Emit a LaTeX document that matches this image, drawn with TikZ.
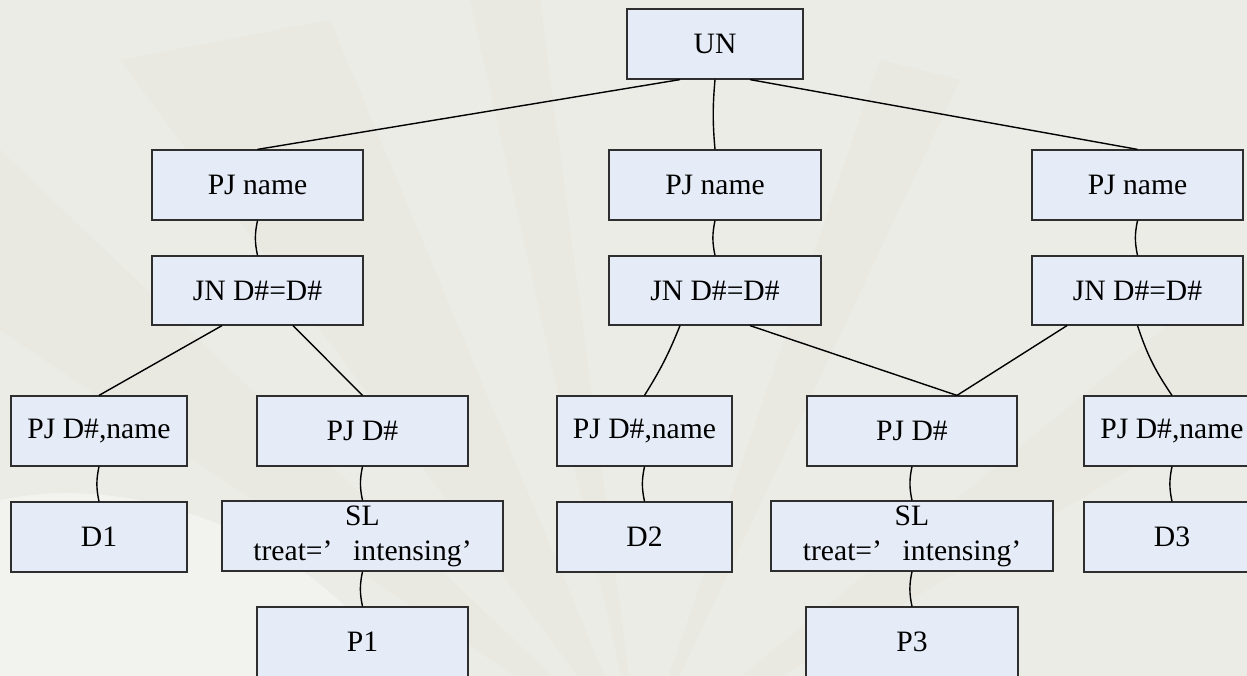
\documentclass[tikz,border=0pt]{standalone}
\usepackage{fontspec}
\setmainfont{Liberation Serif}
\definecolor{paper}{HTML}{ECECE6}
\definecolor{paperlight}{HTML}{F2F2EE}
\definecolor{paperdark}{HTML}{DEDED6}
\definecolor{boxfill}{HTML}{E6ECF7}
\definecolor{boxline}{HTML}{2E2E2E}
\tikzset{
  opbox/.style={draw=boxline, line width=1.2pt, fill=boxfill, inner sep=0pt,
    minimum height=70pt, align=center,
    font=\fontsize{29.6}{35}\selectfont},
  link/.style={draw=black, line width=1.4pt},
  drop/.style={link, bend right=12},
  ray/.style={fill=paperdark, opacity=0.2},
}
\begin{document}
\begin{tikzpicture}[x=1pt, y=-1pt]
  % page area
  \clip (0,0) rectangle (1247,676);
  \fill[paper] (0,0) rectangle (1247,676);
  % faint fan-shaped paper texture
  \coordinate (hub) at (640,760);
  \fill[ray] (hub) -- (0,150) -- (0,330) -- cycle;
  \fill[ray] (hub) -- (120,60) -- (330,20) -- cycle;
  \fill[ray] (hub) -- (470,0) -- (540,0) -- cycle;
  \fill[ray] (hub) -- (880,60) -- (960,80) -- cycle;
  \fill[ray] (hub) -- (1247,260) -- (1247,400) -- cycle;
  \fill[paperlight] (0,500) .. controls (140,470) and (320,540) .. (400,676) -- (0,676) -- cycle;

  % root
  \node[opbox, minimum width=176pt] (un) at (715,44) {UN};

  % projections on name
  \node[opbox, minimum width=211pt] (pjl) at (257.5,185) {PJ name};
  \node[opbox, minimum width=212pt] (pjm) at (715,185) {PJ name};
  \node[opbox, minimum width=211pt] (pjr) at (1137.5,185) {PJ name};

  % joins
  \node[opbox, minimum width=211pt, minimum height=69pt] (jnl) at (257.5,290.5) {JN D\#=D\#};
  \node[opbox, minimum width=212pt, minimum height=69pt] (jnm) at (715,290.5) {JN D\#=D\#};
  \node[opbox, minimum width=211pt, minimum height=69pt] (jnr) at (1137.5,290.5) {JN D\#=D\#};

  % projections below the joins
  \node[opbox, minimum width=176pt] (pdnl) at (99,431) {PJ D\#,name};
  \node[opbox, minimum width=211pt] (pdl) at (362.5,431) {PJ D\#};
  \node[opbox, minimum width=175pt] (pdnm) at (644.5,431) {PJ D\#,name};
  \node[opbox, minimum width=210pt] (pdm) at (912,431) {PJ D\#};
  \node[opbox, minimum width=176pt] (pdnr) at (1172,431) {PJ D\#,name};

  % leaves and selections
  \node[opbox, minimum width=176pt] (dl) at (99,537) {D1};
  \node[opbox, minimum width=281pt] (sll) at (362.5,536)
    {SL\\treat=’\hspace{0.7em}intensing’\hspace{0.7em}};
  \node[opbox, minimum width=175pt] (dm) at (644.5,537) {D2};
  \node[opbox, minimum width=282pt] (slm) at (912,536)
    {SL\\treat=’\hspace{0.7em}intensing’\hspace{0.7em}};
  \node[opbox, minimum width=176pt] (dr) at (1172,537) {D3};
  \node[opbox, minimum width=211pt] (pl) at (362.5,642) {P1};
  \node[opbox, minimum width=212pt] (pr) at (912,642) {P3};

  % connectors
  \draw[link] ([xshift=-35pt]un.south) -- (pjl.north);
  \draw[link] (un.south) to[bend right=5] (pjm.north);
  \draw[link] ([xshift=35pt]un.south) -- (pjr.north);

  \draw[link] (pjl.south) to[drop] (jnl.north);
  \draw[link] (pjm.south) to[drop] (jnm.north);
  \draw[link] (pjr.south) to[drop] (jnr.north);

  \draw[link] ([xshift=-35.5pt]jnl.south) -- (pdnl.north);
  \draw[link] ([xshift=35.5pt]jnl.south) -- (pdl.north);
  \draw[link] ([xshift=-35pt]jnm.south) to[bend left=5] (pdnm.north);
  \draw[link] ([xshift=35pt]jnm.south) -- ([xshift=45pt]pdm.north);
  \draw[link] ([xshift=-70.5pt]jnr.south) -- ([xshift=45pt]pdm.north);
  \draw[link] (jnr.south) to[bend right=8] (pdnr.north);

  \draw[link] (pdnl.south) to[drop] (dl.north);
  \draw[link] (pdl.south) to[drop] (sll.north);
  \draw[link] (sll.south) to[drop] (pl.north);
  \draw[link] (pdnm.south) to[drop] (dm.north);
  \draw[link] (pdm.south) to[drop] (slm.north);
  \draw[link] (slm.south) to[drop] (pr.north);
  \draw[link] (pdnr.south) to[drop] (dr.north);
\end{tikzpicture}
\end{document}
